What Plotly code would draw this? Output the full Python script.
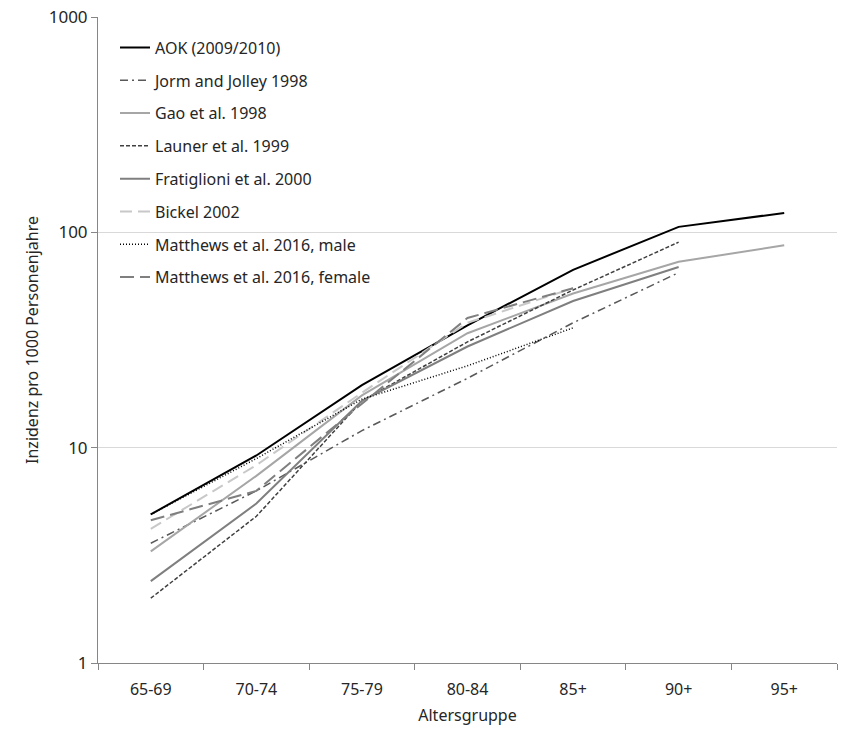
import plotly.graph_objects as go

categories = ["65-69", "70-74", "75-79", "80-84", "85+", "90+", "95+"]

aok = [4.9, 9.2, 19.5, 37, 67, 106, 123]
jorm = [3.6, 6.3, 12, 21, 38, 65, None]
gao = [3.3, 7.4, 17.5, 34, 52, 73, 87]
launer = [2.0, 4.8, 16.5, 31, 54, 90, None]
fratiglioni = [2.4, 5.5, 16.5, 29.5, 48, 69, None]
bickel = [4.2, 8.3, 18, 38, 55, None, None]
matthews_male = [4.9, 8.9, 16.8, 24, 36, None, None]
matthews_female = [4.6, 6.3, 16, 40, 55, None, None]

series = [
    ("AOK (2009/2010)", aok, "#000000", "solid", 2),
    ("Jorm and Jolley 1998", jorm, "#595959", "8px,4px,2px,4px", 1.5),
    ("Gao et al. 1998", gao, "#a6a6a6", "solid", 2),
    ("Launer et al. 1999", launer, "#404040", "4px,2px", 1.5),
    ("Fratiglioni et al. 2000", fratiglioni, "#7f7f7f", "solid", 2),
    ("Bickel 2002", bickel, "#c8c8c8", "12px,6px", 2),
    ("Matthews et al. 2016, male", matthews_male, "#000000", "1px,2px", 1.5),
    ("Matthews et al. 2016, female", matthews_female, "#7f7f7f", "14px,6px", 2),
]

fig = go.Figure()
for name, vals, color, dash, w in series:
    fig.add_trace(go.Scatter(
        x=categories, y=vals, name=name, mode="lines",
        line=dict(color=color, dash=dash, width=w),
        legendgroup=name, connectgaps=False,
    ))

fig.update_layout(
    width=841, height=731,
    margin=dict(l=98, r=4, t=17, b=68),
    paper_bgcolor="white", plot_bgcolor="white",
    font=dict(family="Noto Sans, Open Sans, sans-serif", color="#262626", size=15),
    showlegend=True,
    legend=dict(
        x=0.023, y=0.979, xanchor="left", yanchor="top",
        bgcolor="rgba(0,0,0,0)", font=dict(size=16, color="#262626"),
        tracegroupgap=9, traceorder="grouped",
    ),
    xaxis=dict(
        type="category", categoryorder="array", categoryarray=categories,
        showline=True, linecolor="#868686", linewidth=1,
        ticks="outside", tickson="boundaries", ticklen=6, tickcolor="#868686",
        ticklabelstandoff=12,
        showgrid=False, tickfont=dict(size=16, color="#262626"),
        title=dict(text="Altersgruppe", font=dict(size=16, color="#262626"), standoff=10),
        range=[-0.5, 6.5],
    ),
    yaxis=dict(
        type="log", range=[0, 3],
        tickvals=[1, 10, 100, 1000], ticktext=["1", "10", "100", "1000"],
        showline=True, linecolor="#868686", linewidth=1,
        ticks="outside", ticklen=6, tickcolor="#868686",
        showgrid=True, gridcolor="#d9d9d9", gridwidth=1,
        tickfont=dict(size=17, color="#262626"),
        title=dict(text="Inzidenz pro 1000 Personenjahre", font=dict(size=16, color="#262626"), standoff=6),
        zeroline=False,
    ),
)

fig.write_html("out.html", config={"displayModeBar": False},
               post_script="document.body.style.margin='0';")
